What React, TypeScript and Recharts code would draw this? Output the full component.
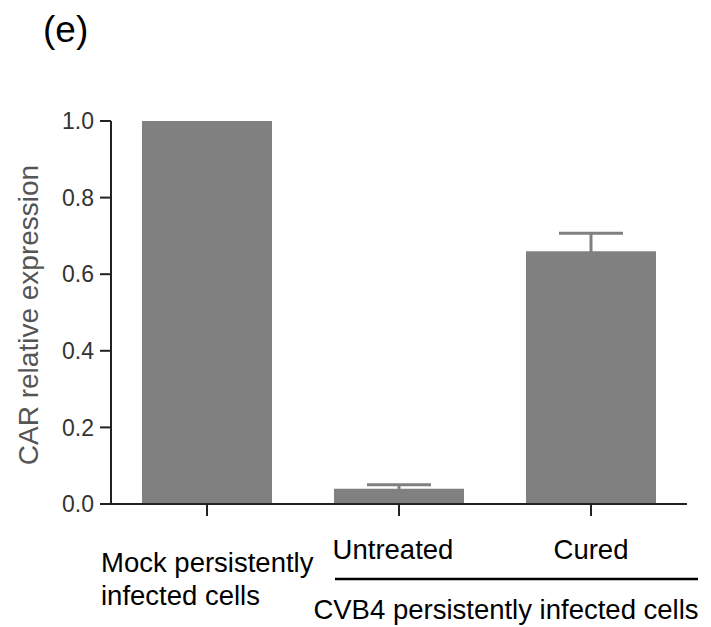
import { BarChart, Bar, XAxis, YAxis, ErrorBar } from "recharts"

const groups = ["Mock persistently infected cells", "Untreated", "Cured"]
const expression = [1.0, 0.04, 0.66]
const sem = [null, 0.01, 0.047]
const yTicks = [0, 0.2, 0.4, 0.6, 0.8, 1.0]

const data = groups.map((g, i) => ({
  name: g,
  value: expression[i],
  err: sem[i],
}))

const FONT = '"Liberation Sans", Arial, sans-serif'

const GroupTick = (props: any) => {
  const { x, y, index } = props
  // y is where the tick label starts (below the tick mark)
  if (index === 0) {
    return (
      <g>
        <text x={x - 106} y={y + 54} fontSize={27.5} fill="#000" fontFamily={FONT}>
          Mock persistently
        </text>
        <text x={x - 106} y={y + 87} fontSize={27.5} fill="#000" fontFamily={FONT}>
          infected cells
        </text>
      </g>
    )
  }
  return (
    <text
      x={index === 1 ? x - 6 : x}
      y={y + 41}
      textAnchor="middle"
      fontSize={27.5}
      fill="#000"
      fontFamily={FONT}
    >
      {props.payload.value}
    </text>
  )
}

const YLabel = () => (
  <text
    x={38}
    y={315}
    transform="rotate(-90 38 315)"
    textAnchor="middle"
    fontSize={28}
    fill="#555"
    fontFamily={FONT}
  >
    CAR relative expression
  </text>
)

export default function App() {
  return (
    <div style={{ position: "absolute", left: 0, top: 0, width: 711, height: 627, background: "#fff" }}>
      <BarChart
        width={711}
        height={627}
        data={data}
        margin={{ top: 121, right: 24, left: 0, bottom: 0 }}
        style={{ fontFamily: FONT }}
      >
        <XAxis
          dataKey="name"
          height={123}
          tickSize={12}
          tickMargin={2}
          axisLine={{ stroke: "#222", strokeWidth: 2 }}
          tickLine={{ stroke: "#222", strokeWidth: 2 }}
          tick={<GroupTick />}
          interval={0}
        />
        <YAxis
          width={111}
          domain={[0, 1]}
          ticks={yTicks}
          tickFormatter={(v: number) => v.toFixed(1)}
          tickSize={11}
          tickMargin={6}
          axisLine={{ stroke: "#222", strokeWidth: 2 }}
          tickLine={{ stroke: "#222", strokeWidth: 2 }}
          tick={{ fontSize: 23, fill: "#333", fontFamily: FONT }}
          label={<YLabel />}
        />
        <Bar dataKey="value" fill="#808080" barSize={130} isAnimationActive={false}>
          <ErrorBar dataKey="err" width={32} stroke="#808080" strokeWidth={3} direction="y" />
        </Bar>
      </BarChart>
      <svg
        width={711}
        height={627}
        style={{ position: "absolute", left: 0, top: 0, pointerEvents: "none" }}
      >
        <text x={43} y={42} fontSize={37} fill="#000" fontFamily={FONT}>
          (e)
        </text>
        <line x1={335} x2={698} y1={579} y2={579} stroke="#000" strokeWidth={2.5} />
        <text x={506} y={619} textAnchor="middle" fontSize={27.5} fill="#000" fontFamily={FONT}>
          CVB4 persistently infected cells
        </text>
      </svg>
    </div>
  )
}
